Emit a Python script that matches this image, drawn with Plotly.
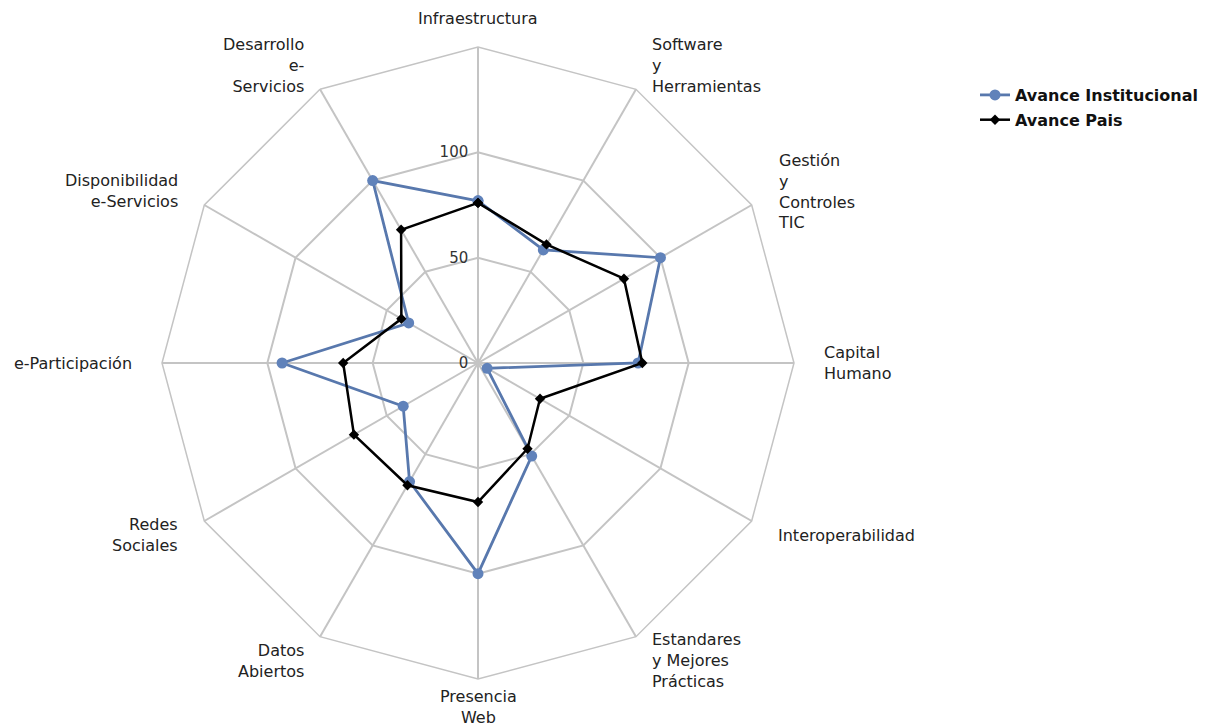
import math
import plotly.graph_objects as go

categories = [
    "Infraestructura",
    "Software<br>y<br>Herramientas",
    "Gestión<br>y<br>Controles<br>TIC",
    "Capital<br>Humano",
    "Interoperabilidad",
    "Estandares<br>y Mejores<br>Prácticas",
    "Presencia<br>Web",
    "Datos<br>Abiertos",
    "Redes<br>Sociales",
    "e-Participación",
    "Disponibilidad<br>e-Servicios",
    "Desarrollo<br>e-<br>Servicios",
]

avance_institucional = [77, 62, 100, 76, 5, 51, 100, 65, 41, 93, 38, 100]
avance_pais = [76, 65, 80, 78, 34, 47, 66, 67, 68, 64, 42, 73]

radial_ticks = [0, 50, 100]
radial_ticktext = ["0", "50", "100"]

# the page body adds an 8 px margin, so the figure is sized to fill the window
OFF = 8
W, H = 1219 - OFF, 726 - OFF
CX, CY = 478 - OFF, 363 - OFF   # centre of the radar in figure pixels
RADIUS = 316                    # outer polygon radius in pixels
LABEL_R = 344                   # radius at which category labels sit

GRID = "#c4c4c4"
FONT = "DejaVu Sans"


def closed(v):
    return list(v) + [v[0]]


fig = go.Figure()
fig.add_trace(go.Scatterpolar(
    r=closed(avance_institucional),
    theta=closed(categories),
    mode="lines+markers",
    name="Avance Institucional",
    legendgroup="a",
    line=dict(color="#5878ad", width=2.8),
    marker=dict(symbol="circle", size=11, color="#6082ba"),
))
fig.add_trace(go.Scatterpolar(
    r=closed(avance_pais),
    theta=closed(categories),
    mode="lines+markers",
    name="Avance Pais",
    legendgroup="b",
    line=dict(color="#000000", width=2.5),
    marker=dict(symbol="diamond", size=8, color="#000000"),
))

# category labels placed around the polygon
n = len(categories)
annotations = []
for i, cat in enumerate(categories):
    ang = math.radians(90 - 360 * i / n)
    c, s = math.cos(ang), math.sin(ang)
    if abs(c) < 0.1:
        xa, al = "center", "center"
    elif c > 0:
        xa, al = "left", "left"
    else:
        xa, al = "right", "right"
    annotations.append(dict(
        text=cat,
        xref="paper", yref="paper",
        x=(CX + LABEL_R * c) / W,
        y=1 - (CY - LABEL_R * s) / H,
        xanchor=xa, yanchor="middle", align=al,
        showarrow=False,
        font=dict(family=FONT, size=16, color="#222222"),
    ))

fig.update_layout(
    width=W,
    height=H,
    paper_bgcolor="white",
    plot_bgcolor="white",
    margin=dict(l=0, r=0, t=0, b=0),
    font=dict(family=FONT, size=16, color="#222222"),
    annotations=annotations,
    polar=dict(
        domain=dict(x=[(CX - RADIUS) / W, (CX + RADIUS) / W],
                    y=[1 - (CY + RADIUS) / H, 1 - (CY - RADIUS) / H]),
        bgcolor="white",
        gridshape="linear",
        radialaxis=dict(
            range=[0, 150],
            angle=90,
            tickangle=90,
            side="counterclockwise",
            tickvals=radial_ticks,
            ticktext=radial_ticktext,
            showline=False,
            gridcolor=GRID,
            gridwidth=1.5,
            ticks="outside",
            ticklen=4,
            tickcolor="rgba(0,0,0,0)",
            tickfont=dict(size=15, color="#333333"),
        ),
        angularaxis=dict(
            categoryarray=categories,
            categoryorder="array",
            rotation=90,
            direction="clockwise",
            gridcolor=GRID,
            gridwidth=1.5,
            showline=True,
            linecolor=GRID,
            linewidth=1.5,
            ticks="",
            showticklabels=False,
        ),
    ),
    legend=dict(
        x=967 / W,
        y=1 - 70 / H,
        xanchor="left",
        yanchor="top",
        font=dict(family=FONT, size=16, color="#111111", weight="bold"),
        tracegroupgap=1,
        bgcolor="rgba(0,0,0,0)",
    ),
    showlegend=True,
)

fig.write_html("out.html")
